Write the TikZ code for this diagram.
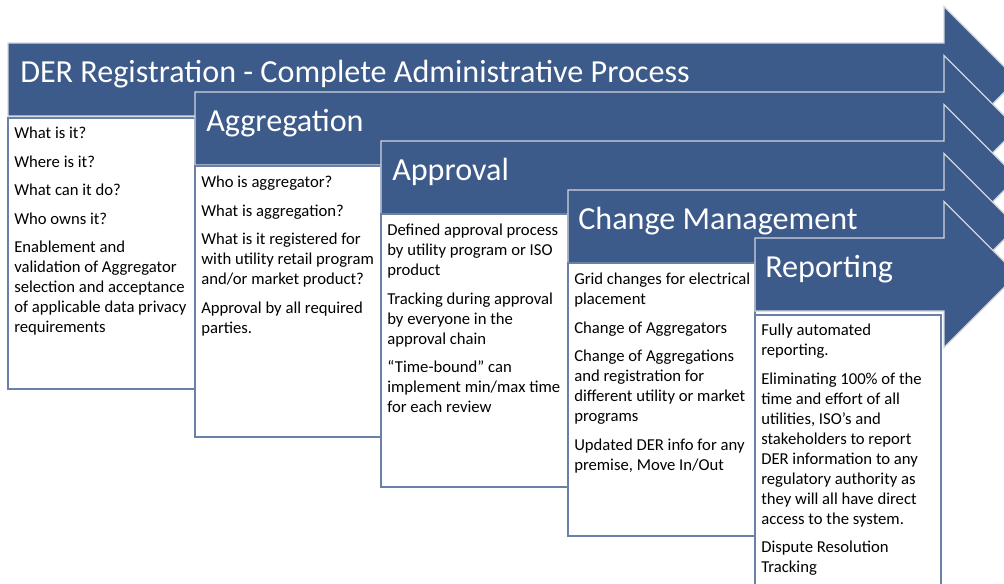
\documentclass[tikz,border=0pt]{standalone}
\usepackage{fontspec}
\setmainfont{Carlito}

\definecolor{stepblue}{HTML}{3C5A8A}
\definecolor{boxline}{HTML}{6A80A8}
\definecolor{stepedge}{HTML}{D2D6DD}

\tikzset{
    steparrow/.style={fill=stepblue, draw=stepedge, line width=1pt, line join=miter},
    steptitle/.style={anchor=base west, inner sep=0pt, text=white,
        font=\fontsize{24.1}{27}\selectfont},
    notebox/.style={fill=white, draw=boxline, line width=1.2pt},
    notetext/.style={anchor=north west, inner sep=0pt, align=left,
        font=\fontsize{12.5}{15}\selectfont}
}

\begin{document}
\begin{tikzpicture}[x=0.75pt, y=-0.75pt]
    \clip (0,0) rectangle (1004,583);
    \fill[white] (0,0) rectangle (1004,583);

    % registration
    \draw[steparrow] (8,43) -- (944,43) -- (944,6.5) -- (1017,79.5) -- (944,152.5) -- (944,116) -- (8,116) -- cycle;
    \node[steptitle] (regtitle) at (20,82) {DER Registration - Complete Administrative Process};
    \draw[notebox] (8,118) rectangle (195,389);
    \node[notetext] (regnotes) at (14,127) {What is it?\\[6.4pt]
        Where is it?\\[6.4pt]
        What can it do?\\[6.4pt]
        Who owns it?\\[6.4pt]
        Enablement and\\ validation of Aggregator\\ selection and acceptance\\ of applicable data privacy\\ requirements};

    % aggregation
    \draw[steparrow] (195,92) -- (944,92) -- (944,55.5) -- (1017,128.5) -- (944,201.5) -- (944,165) -- (195,165) -- cycle;
    \node[steptitle] (aggtitle) at (206,131) {Aggregation};
    \draw[notebox] (195,166) rectangle (381,437);
    \node[notetext] (aggnotes) at (201,176) {Who is aggregator?\\[6.4pt]
        What is aggregation?\\[6.4pt]
        What is it registered for\\ with utility retail program\\ and/or market product?\\[6.4pt]
        Approval by all required\\ parties.};

    % approval
    \draw[steparrow] (381,141) -- (944,141) -- (944,104.5) -- (1017,177.5) -- (944,250.5) -- (944,214) -- (381,214) -- cycle;
    \node[steptitle] (apptitle) at (392,180) {Approval};
    \draw[notebox] (381,214) rectangle (568,487);
    \node[notetext] (appnotes) at (387,224) {Defined approval process\\ by utility program or ISO\\ product\\[6.4pt]
        Tracking during approval\\ by everyone in the\\ approval chain\\[6.4pt]
        ``Time-bound'' can\\ implement min/max time\\ for each review};

    % change management
    \draw[steparrow] (568,190) -- (944,190) -- (944,153.5) -- (1017,226.5) -- (944,299.5) -- (944,263) -- (568,263) -- cycle;
    \node[steptitle] (chgtitle) at (578,229) {Change Management};
    \draw[notebox] (568,263) rectangle (755,536);
    \node[notetext] (chgnotes) at (574,273) {Grid changes for electrical\\ placement\\[6.4pt]
        Change of Aggregators\\[6.4pt]
        Change of Aggregations\\ and registration for\\ different utility or market\\ programs\\[6.4pt]
        Updated DER info for any\\ premise, Move In/Out};

    % reporting
    \draw[steparrow] (755,238) -- (944,238) -- (944,201.5) -- (1017,274.5) -- (944,347.5) -- (944,311) -- (755,311) -- cycle;
    \node[steptitle] (reptitle) at (765,277) {Reporting};
    \draw[notebox] (755,315) rectangle (941,600);
    \node[notetext] (repnotes) at (761,324) {Fully automated\\ reporting.\\[6.4pt]
        Eliminating 100\% of the\\ time and effort of all\\ utilities, ISO’s and\\ stakeholders to report\\ DER information to any\\ regulatory authority as\\ they will all have direct\\ access to the system.\\[6.4pt]
        Dispute Resolution\\ Tracking};
\end{tikzpicture}
\end{document}
